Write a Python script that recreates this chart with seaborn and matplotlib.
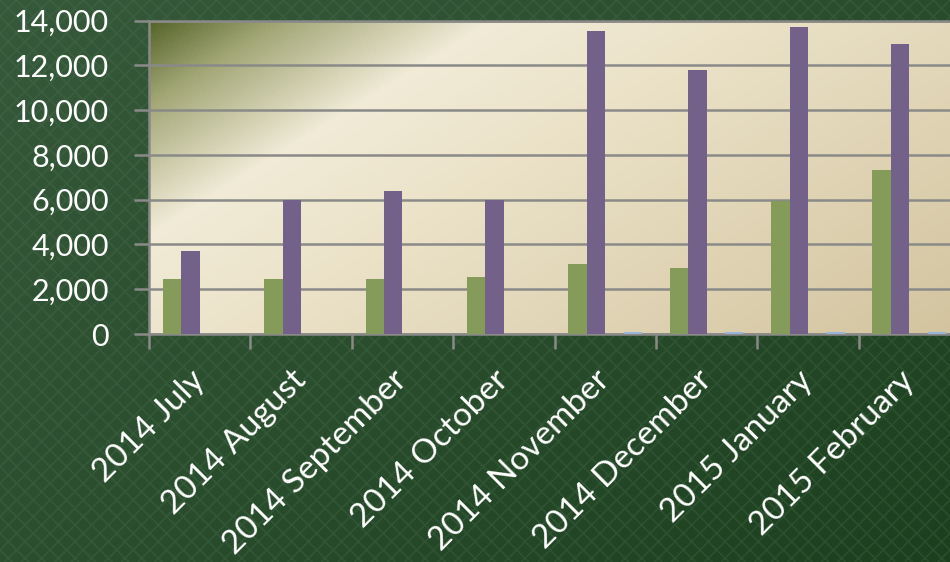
import numpy as np
import pandas as pd
import matplotlib
matplotlib.use("Agg")
import matplotlib.pyplot as plt
from matplotlib.colors import LinearSegmentedColormap
from matplotlib.patches import Rectangle
import seaborn as sns

# data
months = ["2014 July", "2014 August", "2014 September", "2014 October",
          "2014 November", "2014 December", "2015 January", "2015 February"]
green_vals = [2480, 2450, 2470, 2560, 3110, 2950, 5940, 7320]
purple_vals = [3730, 6000, 6380, 5980, 13560, 11790, 13740, 12960]
empty_vals = [0, 0, 0, 0, 0, 0, 0, 0]
blue_vals = [0, 0, 0, 0, 80, 70, 80, 80]
series_names = ["A", "B", "C", "D"]
series_colors = ["#89a64f", "#725a91", "#4bacc6", "#8eb3e0"]

df = pd.DataFrame({
    "month": months * 4,
    "series": np.repeat(series_names, len(months)),
    "value": green_vals + purple_vals + empty_vals + blue_vals,
})

sns.set_style("white")
plt.rcParams["font.family"] = ["Lato", "DejaVu Sans"]
plt.rcParams["hatch.linewidth"] = 1.2

fig = plt.figure(figsize=(9.5, 5.62), dpi=100)

# textured dark green backdrop
bg = fig.add_axes([0, 0, 1, 1], zorder=-10)
bg.set_axis_off()
yy, xx = np.mgrid[0:1:200j, 0:1:300j]
shade = 0.55 * xx + 0.45 * yy
bg_cmap = LinearSegmentedColormap.from_list("bg", ["#36593b", "#2a4d2e", "#1c3f1e"])
bg.imshow(shade, cmap=bg_cmap, extent=[0, 1, 0, 1], aspect="auto", origin="upper")
bg.add_patch(Rectangle((0, 0), 1, 1, facecolor="none", edgecolor="#4f7552",
                       hatch="xx", linewidth=0, alpha=0.28))
bg.set_xlim(0, 1)
bg.set_ylim(0, 1)

ax = fig.add_axes([149 / 950, 228 / 562, 811 / 950, 313.3 / 562])

# plot-area gradient: olive top-left corner fading to cream then tan
grad_cmap = LinearSegmentedColormap.from_list(
    "area", [(0.0, "#56652a"), (0.10, "#a3a777"), (0.26, "#f1ebd7"),
             (0.45, "#ebe2c8"), (1.0, "#d3c49f")])
gy, gx = np.mgrid[0:1:120j, 0:1:300j]
t = (gx * 811 + gy * 313 * 1.6) / (811 + 313 * 1.6)
ax.imshow(t, cmap=grad_cmap, extent=[-0.5, 7.5, 0, 14000], aspect="auto",
          zorder=0, origin="upper")

sns.barplot(data=df, x="month", y="value", hue="series", order=months,
            hue_order=series_names, palette=series_colors, width=4 / 5.5,
            errorbar=None, linewidth=0, legend=False, ax=ax, zorder=3)

ax.set_xlim(-0.5, 7.5)
ax.set_ylim(0, 14000)
ax.set_yticks(range(0, 14001, 2000))
ax.set_yticklabels([f"{v:,}" for v in range(0, 14001, 2000)])
ax.set_xlabel("")
ax.set_ylabel("")

ax.grid(axis="y", color="#8a8a88", linewidth=1.8, zorder=1)
ax.set_axisbelow(True)
for side in ["left", "bottom", "top"]:
    ax.spines[side].set_visible(True)
    ax.spines[side].set_color("#8a8a88")
    ax.spines[side].set_linewidth(1.8)
ax.spines["right"].set_visible(False)

ax.tick_params(axis="y", colors="#8a8a88", labelcolor="white", labelsize=22,
               length=11, width=1.8, direction="out", pad=18, left=True)
ax.set_xticks(np.arange(-0.5, 8, 1), minor=True)
ax.tick_params(axis="x", which="minor", length=11, width=1.8, colors="#8a8a88",
               direction="out", bottom=True)
ax.tick_params(axis="x", which="major", length=0, labelcolor="white",
               labelsize=24, pad=30)
for lab in ax.get_xticklabels():
    lab.set_rotation(45)
    lab.set_ha("right")
    lab.set_va("center")
    lab.set_rotation_mode("anchor")

fig.savefig("out.png", dpi=100, facecolor="#2a4d2e")
